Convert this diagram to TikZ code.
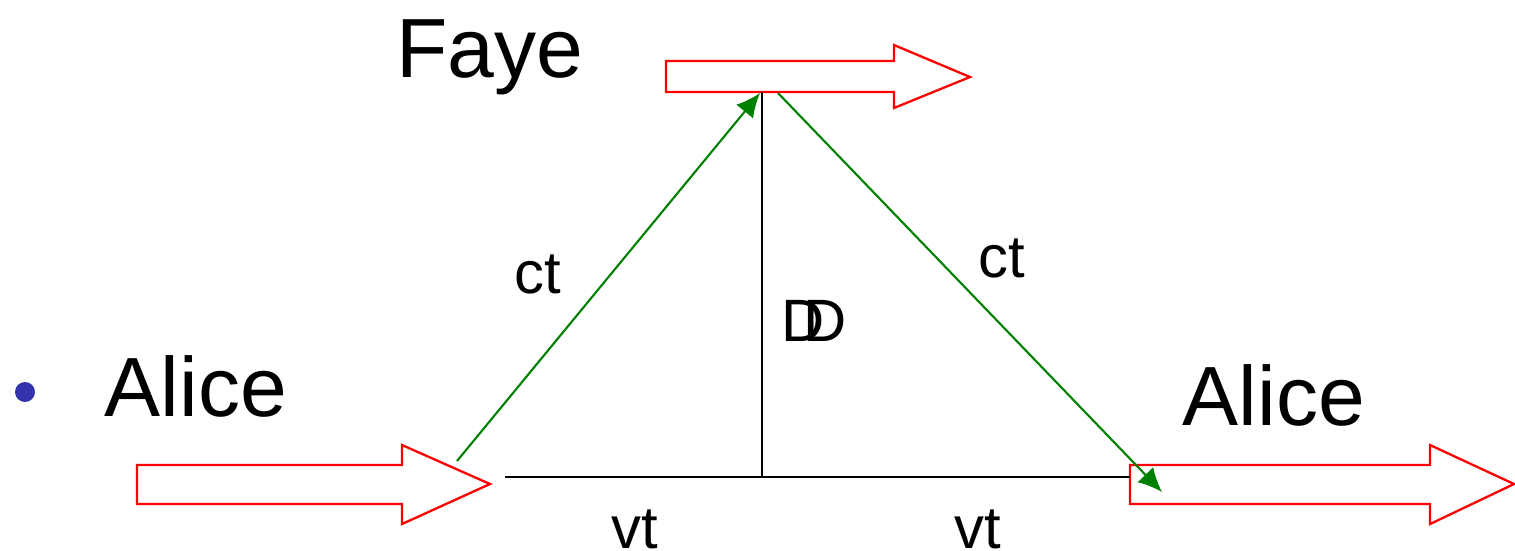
\documentclass[tikz,border=0pt]{standalone}
\usepackage{fontspec}
\setmainfont{Liberation Sans}
\usetikzlibrary{arrows.meta}

\begin{document}
\begin{tikzpicture}[
		x=0.01cm, y=-0.01cm,
		line join=miter,
		bigarrow/.style={red, line width=0.65pt, fill=white},
		baseline/.style={black, line width=0.65pt},
		ray/.style={green!50!black, line width=0.6pt, -{Latex[length=6.8pt,width=6.2pt]}},
		biglab/.style={font=\fontsize{23.9}{28}\selectfont, inner sep=0pt, anchor=base},
		smalllab/.style={font=\fontsize{17}{20}\selectfont, inner sep=0pt, anchor=base}
	]
	
	% Frame
	\useasboundingbox (0,0) rectangle (1515,550);
	
	% Points of the triangle
	\coordinate (left) at (505,477);
	\coordinate (foot) at (762,477);
	\coordinate (right) at (1130,477);
	\coordinate (top) at (762,92);
	\coordinate (emitstart) at (457,461);
	\coordinate (emittop) at (760,93);
	\coordinate (returntop) at (778,93);
	\coordinate (returnend) at (1162,492);
	
	% Block arrows
	\draw[bigarrow] (666,61) -- (894,61) -- (894,45) -- (970,77)
	-- (894,108) -- (894,92) -- (666,92) -- cycle;
	\draw[bigarrow] (137,465) -- (402,465) -- (402,445) -- (490,484)
	-- (402,524) -- (402,504) -- (137,504) -- cycle;
	\draw[bigarrow] (1130,465) -- (1430,465) -- (1430,445) -- (1514,484)
	-- (1430,524) -- (1430,504) -- (1130,504) -- cycle;
	
	% Distances
	\draw[baseline] (left) -- (right);
	\draw[baseline] (foot) -- (top);
	
	% Light paths
	\draw[ray] (emitstart) -- (emittop);
	\draw[ray] (returntop) -- (returnend);
	
	% Labels
	\fill[blue!60!black!80] (25,392) circle (10);
	\node[biglab] (alicea) at (196,416) {Alice};
	\node[biglab] (aliceb) at (1274,425) {Alice};
	\node[biglab] (faye) at (490,77) {Faye};
	\node[smalllab] (cta) at (538,293) {ct};
	\node[smalllab] (ctb) at (1002,277) {ct};
	\node[smalllab] (vta) at (635,548) {vt};
	\node[smalllab] (vtb) at (978,548) {vt};
	\node[smalllab] (da) at (803,341) {D};
	\node[smalllab] (db) at (825,341) {D};
	
\end{tikzpicture}
\end{document}
